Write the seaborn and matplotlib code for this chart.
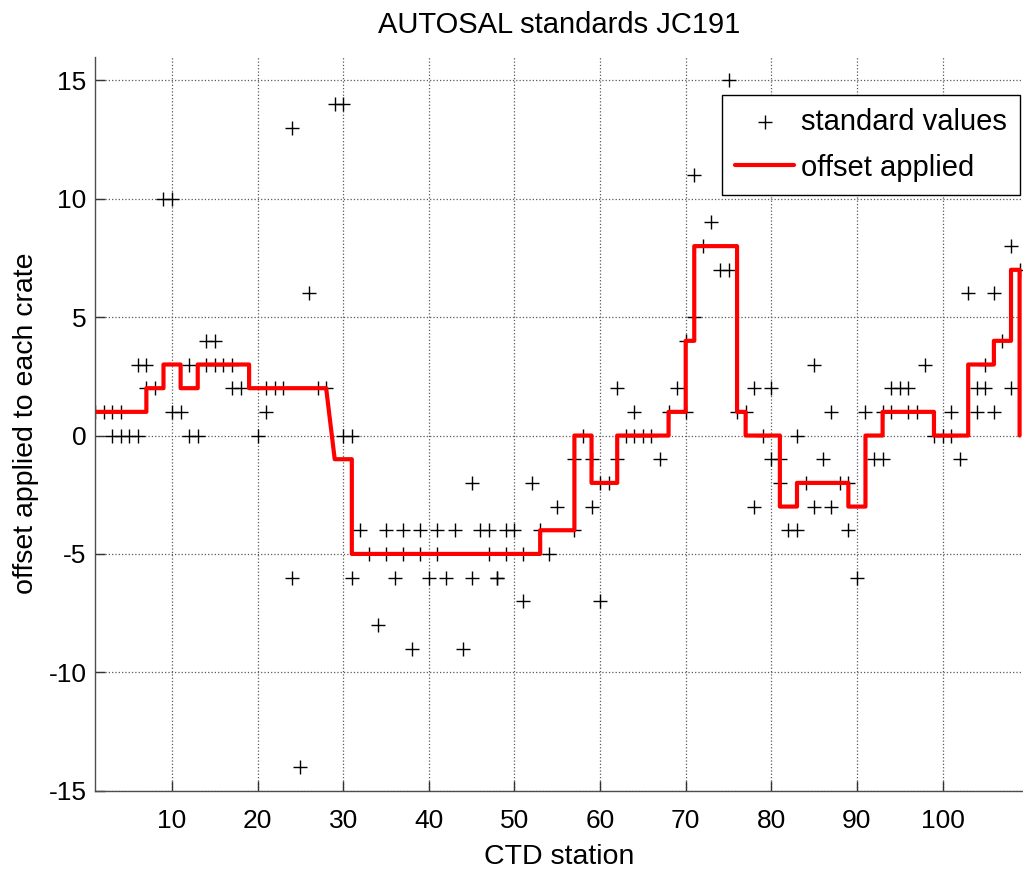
import matplotlib
matplotlib.use("Agg")
import matplotlib.pyplot as plt
import seaborn as sns

# standards read at each CTD station
std_station = [1, 2, 3, 4, 3, 4, 5, 6,
               6, 7, 7, 8, 9, 10, 10, 11,
               12, 12, 13, 14, 15, 14, 15, 16, 17,
               17, 18, 20, 21, 21, 22, 23,
               24, 24, 25, 26, 27, 28, 29, 30,
               30, 31, 31, 32, 33, 34, 35, 35,
               36, 37, 37, 38, 39, 39, 40, 41, 41,
               42, 43, 44, 45, 45, 46, 47, 47,
               48, 48, 49, 49, 50, 51, 51, 52,
               53, 54, 55, 57, 57, 58, 59, 59,
               60, 61, 60, 62, 62, 63, 64, 65, 66,
               64, 67, 68, 69, 70, 70, 71, 71,
               72, 73, 74, 75, 75, 76, 77,
               78, 78, 79, 80, 80, 81, 81, 82, 83,
               83, 84, 85, 85, 86, 87, 87, 88, 89,
               89, 90, 91, 92, 93, 93, 94, 94, 95, 96,
               96, 97, 98, 99, 100, 101, 101, 102,
               103, 104, 104, 105, 105, 106, 106,
               107, 108, 108, 109]
std_offset = [1, 1, 1, 1, 0, 0, 0, 0,
              3, 3, 2, 2, 10, 10, 1, 1,
              3, 0, 0, 4, 4, 3, 3, 3, 3,
              2, 2, 0, 1, 2, 2, 2,
              13, -6, -14, 6, 2, 2, 14, 14,
              0, 0, -6, -4, -5, -8, -4, -5,
              -6, -4, -5, -9, -4, -5, -6, -4, -5,
              -6, -4, -9, -2, -6, -4, -4, -5,
              -6, -6, -4, -5, -4, -5, -7, -2,
              -4, -5, -3, -4, -1, 0, -1, -3,
              -2, -2, -7, 2, -1, 0, 0, 0, 0,
              1, -1, 1, 2, 4, 1, 5, 11,
              8, 9, 7, 7, 15, 1, 1,
              2, -3, 0, 2, -1, -1, -2, -4, -4,
              0, -2, 3, -3, -1, 1, -3, -2, -2,
              -4, -6, 1, -1, -1, 1, 1, 2, 2, 2,
              1, 1, 3, 0, 0, 0, 1, -1,
              6, 1, 2, 2, 3, 1, 6,
              4, 8, 2, 7]

# offset applied, vertices of the line
off_station = [1, 7, 7, 9, 9, 11, 11, 13, 13, 19, 19, 28, 29, 31, 31,
               53, 53, 57, 57, 59, 59, 62, 62, 68, 68, 70, 70, 71, 71,
               76, 76, 77, 77, 81, 81, 83, 83, 89, 89, 91, 91, 93, 93,
               99, 99, 103, 103, 106, 106, 108, 108, 109, 109]
off_value = [1, 1, 2, 2, 3, 3, 2, 2, 3, 3, 2, 2, -1, -1, -5,
             -5, -4, -4, 0, 0, -2, -2, 0, 0, 1, 1, 4, 4, 8,
             8, 1, 1, 0, 0, -3, -3, -2, -2, -3, -3, 0, 0, 1,
             1, 0, 0, 3, 3, 4, 4, 7, 7, 0]

sns.set_style("white")
plt.rcParams["font.family"] = ["Liberation Sans", "DejaVu Sans"]
plt.rcParams["text.color"] = "black"
plt.rcParams["axes.labelcolor"] = "black"
plt.rcParams["xtick.color"] = "black"
plt.rcParams["ytick.color"] = "black"
plt.rcParams["axes.unicode_minus"] = False

fig = plt.figure(figsize=(10.23, 8.69), dpi=100)
ax = fig.add_axes([95 / 1023, 78.3 / 869, 928 / 1023, 734 / 869])

sns.scatterplot(x=std_station, y=std_offset, marker="+", color="black",
                s=95, linewidth=1.0, ax=ax, label="standard values")
sns.lineplot(x=off_station, y=off_value, sort=False, estimator=None,
             color="red", linewidth=3, ax=ax, label="offset applied")

ax.set_xlim(1, 109.4)
ax.set_ylim(-15, 16)
ax.set_xticks(range(10, 101, 10))
ax.set_yticks(range(-15, 16, 5))
ax.grid(True, linestyle=":", color="0.35", linewidth=0.9)
ax.tick_params(direction="in", length=7, width=1, labelsize=19,
               left=True, bottom=True, color="0.2")
ax.tick_params(axis="x", pad=13)
ax.tick_params(axis="y", pad=6)
for side in ["top", "right"]:
    ax.spines[side].set_visible(False)
for side in ["left", "bottom"]:
    ax.spines[side].set_color("0.3")
    ax.spines[side].set_linewidth(1)

ax.set_title("AUTOSAL standards JC191", fontsize=21, pad=17)
ax.set_xlabel("CTD station", fontsize=20.5, labelpad=8)
ax.set_ylabel("offset applied to each crate", fontsize=20.5, labelpad=7)

leg = ax.legend(loc="upper right", bbox_to_anchor=(1020 / 1023, 1 - 95 / 869),
                bbox_transform=fig.transFigure, fontsize=21, frameon=True,
                fancybox=False, edgecolor="black", framealpha=1,
                borderaxespad=0, handlelength=2.0, handletextpad=0.25,
                borderpad=0.45, labelspacing=0.6)
leg.get_frame().set_linewidth(1)

fig.savefig("out.png", dpi=100)
